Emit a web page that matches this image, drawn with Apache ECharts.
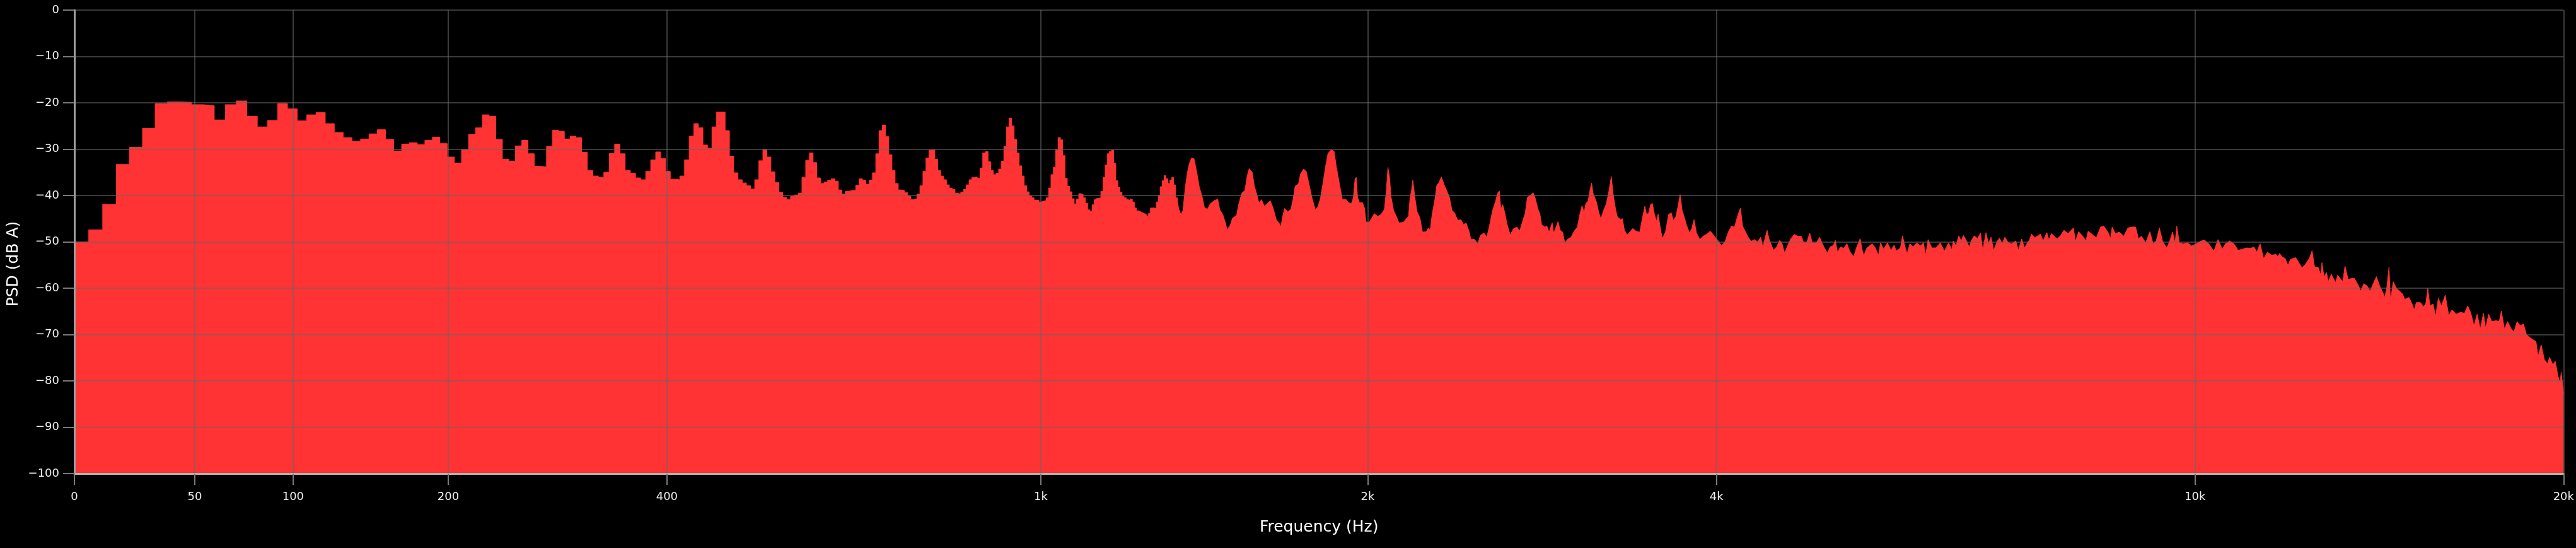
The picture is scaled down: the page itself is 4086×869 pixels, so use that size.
<!DOCTYPE html>
<html>
<head>
<meta charset="utf-8">
<script src="https://cdn.jsdelivr.net/npm/echarts@6/dist/echarts.min.js"></script>
<style>
html,body{margin:0;padding:0;background:#000;}
#chart{width:4086px;height:869px;}
</style>
</head>
<body>
<div id="chart"></div>
<script>
// FFT bin width (Hz) of the low-frequency spectrum
const binWidth = 44100 / 8192;

// PSD (dB A) per FFT bin, bins 0..250 (0 – ~1350 Hz)
const lowBinDb = [
 -50.0,-47.4,-41.9,-33.3,-29.6,-25.5,-20.2,-19.8,-19.9,-20.4,
 -20.6,-23.7,-20.4,-19.6,-22.9,-25.2,-23.8,-20.2,-21.3,-23.9,
 -22.6,-22.1,-24.5,-26.4,-27.5,-28.3,-27.8,-26.7,-25.8,-27.9,
 -30.4,-28.9,-28.6,-29.0,-28.1,-27.4,-28.8,-31.7,-33.0,-30.1,
 -26.8,-25.4,-22.6,-22.9,-27.9,-32.2,-32.6,-29.3,-28.1,-31.0,
 -33.7,-33.8,-29.4,-25.9,-26.2,-27.8,-27.2,-27.5,-30.7,-34.6,
 -35.8,-36.1,-35.0,-30.9,-28.9,-31.0,-34.6,-35.2,-36.2,-36.6,
 -34.8,-32.3,-30.6,-32.0,-34.8,-36.5,-36.6,-35.8,-32.3,-27.2,
 -24.5,-25.4,-29.1,-29.8,-25.2,-22.0,-22.0,-26.0,-31.5,-35.1,
 -36.6,-37.3,-37.9,-38.6,-36.6,-32.5,-30.1,-31.7,-34.9,-37.2,
 -39.3,-40.4,-40.9,-40.2,-39.9,-39.5,-36.1,-32.4,-30.8,-32.9,
 -36.2,-37.4,-37.1,-36.7,-36.4,-36.9,-38.8,-39.7,-39.1,-38.9,
 -38.9,-37.8,-36.4,-36.7,-37.6,-36.7,-35.1,-31.0,-26.0,-24.8,
 -27.3,-31.2,-34.6,-37.4,-38.8,-38.9,-39.4,-40.1,-40.9,-40.7,
 -39.7,-37.9,-34.8,-31.9,-30.2,-30.1,-32.2,-34.6,-35.8,-36.6,
 -37.7,-38.4,-38.7,-39.5,-39.7,-39.3,-38.7,-37.7,-36.6,-36.1,
 -36.0,-36.3,-34.1,-30.8,-30.5,-32.7,-34.6,-35.5,-35.2,-34.3,
 -32.6,-29.4,-25.2,-23.3,-25.0,-27.9,-30.8,-33.6,-35.8,-37.9,
 -39.2,-40.1,-40.5,-41.0,-41.0,-41.4,-41.2,-41.1,-40.5,-38.4,
 -35.5,-33.9,-30.1,-27.5,-28.0,-31.4,-36.3,-38.0,-39.2,-40.7,
 -41.8,-40.8,-39.6,-39.8,-40.5,-41.7,-43.1,-43.4,-42.0,-40.9,
 -40.6,-40.5,-39.1,-36.1,-33.4,-31.0,-30.5,-30.2,-33.0,-36.8,
 -38.2,-39.3,-40.2,-40.5,-40.9,-41.1,-40.8,-41.4,-42.7,-43.3,
 -43.5,-43.7,-43.9,-44.1,-44.5,-43.9,-42.7,-42.7,-42.8,-41.4,
 -40.0,-38.1,-36.8,-35.7,-36.4,-37.4,-36.7,-36.1,-37.7,-40.5,
 -43.0
];

// PSD above ~1.34 kHz: frequency (Hz) and level (dB A)
const highFreq = [
 1344,1350,1356,1362,1368,1374,1380,1387,1394,1402,1410,1418,1425,1434,1443,1455,1466,1472,1482,1490,
 1495,1505,1512,1525,1533,1542,1552,1559,1566,1576,1583,1590,1598,1607,1616,1625,1636,1646,1657,1668,
 1673,1679,1686,1697,1708,1716,1723,1735,1742,1753,1763,1773,1784,1796,1805,1815,1825,1835,1844,1857,
 1867,1876,1887,1899,1912,1922,1934,1942,1949,1954,1959,1967,1978,1987,1993,2006,2017,2027,2041,2055,
 2069,2077,2084,2091,2097,2108,2120,
 2122,2131,2150,2163,2173,2179,2187,2192,2200,2210,2224,2235,2252,2262,2270,2279,2291,2301,2310,2322,
 2335,2350,2360,2372,2385,2400,2415,2428,2440,2456,2463,2482,2498,2511,2529,2543,2556,2572,2588,2599,
 2608,2616,2626,2637,2648,2665,2682,2701,2716,2733,2746,2758,2773,2790,2802,2816,2828,2837,2855,2867,
 2879,2897,2906,2919,2931,2943,2958,2970,2989,3007,3026,3045,3060,3073,3086,3096,3111,3122,3132,3141,
 3161,3176,3189,3207,3224,3240,3256,3267,3283,
 3294,3314,3328,3341,3359,3376,3397,3418,3443,3460,3478,3489,3503,3518,3529,3544,3559,3569,3584,3598,
 3621,3643,3662,3677,3696,3711,3726,3741,3757,3772,3795,3811,3829,3847,3873,3897,3921,3953,3978,4010,
 4040,4068,4093,4118,4143,4169,4191,4208,4229,4254,4280,4307,4333,4359,4377,4395,4413,4431,4468,4495,
 4522,4541,4565,4591,4621,4653,4685,4715,4738,4767,4793,4816,4855,4885,4911,4935,4959,4985,5015,5036,
 5056,5087,5118,5149,5180,5218,5244,5282,5303,5320,5351,5405,5438,5471,5493,5526,5566,5604,5638,5661,
 5707,5730,5758,5781,5811,5846,5889,5929,5965,5989,6018,6061,6110,6160,6209,6259,6297,6315,6348,6381,
 6412,6438,6477,6510,6541,6573,6615,6652,6681,6722,6754,6787,6822,6864,6897,6933,6969,7017,7059,7116,
 7150,7196,7236,7274,7303,7332,7376,7420,7459,7495,7549,7579,7615,7677,
 7706,7752,7799,7861,7940,7972,8019,8084,8132,8165,8230,8295,8362,8412,8479,8520,8547,8598,8667,8736,
 8806,8876,8936,8983,9036,9108,9181,9236,9291,9347,9402,9477,9534,9583,9629,9660,9706,9783,9861,9939,
 10019,10099,10179,10260,10363,10445,10528,10591,10675,10760,10846,10932,11019,11107,11173,11240,11307,11383,11464,11555,
 11647,
 11692,11730,11785,11855,11917,11973,12092,12164,12236,12309,12407,12471,12530,12614,12680,12705,12755,12816,12856,12932,
 13035,13086,13164,13216,13269,13347,13427,13506,13613,13667,13748,13830,13911,13994,14077,14161,14244,14301,14357,14414,
 14454,14528,14614,14701,14788,14847,14964,15052,15112,15172,15292,15383,15443,15504,15566,15658,15732,15813,15907,16020,
 16128,16223,16352,16481,16611,16710,16809,16908,17008,17109,17211,17279,17381,17484,17623,17727,17797,17902,18008,18115,
 18222,18330,18439,18548,18658,18768,18879,18991,19066,19179,19292,19407,19483,19598,19691,19792,19870,19909,19972,20000
];
const highDb = [
 -40.5,-43.0,-44.1,-43.2,-38.6,-35.4,-33.2,-31.9,-32.0,-34.8,-38.2,-40.1,-42.5,-43.0,-41.8,-41.1,-40.8,-43.0,-44.2,-45.9,
 -47.4,-46.4,-44.9,-44.3,-41.6,-39.5,-38.9,-35.9,-34.2,-35.0,-38.0,-39.5,-41.6,-40.9,-42.3,-41.8,-41.1,-42.7,-45.2,-46.1,
 -46.7,-44.5,-42.8,-43.5,-43.0,-40.7,-38.0,-37.5,-35.4,-34.3,-34.8,-37.5,-40.5,-43.0,-42.5,-40.7,-37.3,-33.6,-30.9,-30.1,
 -30.5,-33.9,-37.3,-40.9,-40.8,-41.5,-41.8,-40.5,-36.4,-36.1,-40.4,-41.6,-41.5,-42.7,-45.7,-45.8,-44.8,-43.9,-44.5,-44.1,
 -43.0,-39.1,-33.9,-36.1,-40.2,-43.2,-44.5,
 -44.5,-45.9,-45.8,-45.0,-44.5,-40.7,-38.6,-36.7,-40.0,-43.4,-44.9,-47.9,-47.8,-47.0,-47.5,-44.1,-41.1,-37.7,-37.3,-36.0,
 -37.7,-39.3,-40.4,-43.2,-43.8,-45.4,-45.2,-46.3,-45.9,-47.9,-49.4,-49.5,-50.4,-48.6,-48.1,-49.0,-46.8,-43.4,-41.3,-39.5,
 -39.0,-42.9,-42.0,-43.8,-46.1,-48.5,-47.2,-46.8,-47.7,-45.4,-43.8,-40.4,-40.0,-39.4,-40.7,-42.9,-44.1,-46.3,-46.8,-46.6,
 -47.9,-45.9,-48.1,-46.8,-45.6,-47.5,-47.9,-50.2,-49.4,-49.0,-47.7,-46.8,-44.1,-42.2,-43.6,-41.8,-41.1,-38.8,-37.3,-39.5,
 -41.3,-43.6,-45.0,-43.2,-41.8,-39.1,-35.9,-39.5,-42.9,
 -44.5,-45.2,-45.0,-47.5,-48.5,-47.9,-47.1,-47.7,-47.9,-45.0,-42.3,-44.1,-43.8,-41.9,-41.7,-44.1,-45.6,-44.0,-46.8,-49.3,
 -47.9,-44.1,-43.7,-45.4,-44.5,-42.3,-39.8,-43.2,-44.7,-46.3,-48.1,-47.2,-45.2,-48.1,-49.5,-48.8,-48.4,-47.7,-48.6,-49.7,
 -50.8,-49.9,-47.9,-46.6,-46.8,-44.3,-42.7,-46.6,-47.7,-49.0,-49.9,-49.5,-50.0,-49.0,-51.1,-49.3,-47.5,-49.5,-51.8,-51.1,
 -49.7,-50.2,-52.4,-50.9,-49.3,-48.4,-48.8,-48.8,-50.2,-50.0,-48.1,-50.2,-50.2,-49.0,-50.4,-51.5,-52.4,-51.1,-50.8,-49.7,
 -52.2,-51.1,-51.4,-50.4,-52.2,-53.2,-51.3,-49.3,-51.8,-52.9,-51.3,-50.4,-51.3,-52.9,-50.2,-51.6,-50.2,-51.8,-50.7,-52.0,
 -51.3,-48.7,-51.1,-52.5,-50.4,-51.1,-50.2,-50.9,-50.2,-52.9,-49.5,-51.3,-51.3,-50.2,-52.0,-50.2,-51.7,-49.8,-50.9,-48.7,
 -49.8,-48.6,-49.8,-51.1,-49.6,-48.7,-49.3,-48.1,-51.8,-48.0,-50.4,-49.0,-51.8,-50.0,-49.2,-50.4,-49.0,-50.2,-50.4,-49.8,
 -51.8,-49.4,-51.3,-50.2,-49.6,-48.3,-49.1,-48.7,-48.3,-49.8,-48.0,-49.6,-48.2,-49.1,
 -49.3,-48.6,-47.5,-48.2,-47.0,-49.9,-47.8,-48.8,-49.8,-47.7,-48.4,-49.1,-46.8,-46.6,-47.9,-49.3,-46.8,-48.2,-47.9,-48.8,
 -47.0,-46.8,-46.8,-49.3,-48.8,-50.2,-47.8,-50.4,-49.8,-47.0,-49.8,-51.3,-49.8,-47.9,-50.2,-46.6,-50.2,-50.4,-50.2,-50.9,
 -50.4,-49.9,-49.6,-50.4,-52.0,-49.5,-51.6,-50.4,-49.8,-50.4,-51.8,-51.6,-51.3,-51.4,-51.1,-52.2,-50.4,-53.6,-52.2,-52.9,
 -52.7,
 -53.2,-52.5,-53.2,-53.6,-55.1,-53.8,-53.4,-54.5,-55.6,-54.9,-53.6,-51.9,-55.4,-55.5,-57.2,-54.5,-57.6,-56.6,-58.6,-57.0,
 -58.8,-57.2,-58.1,-58.5,-55.2,-58.1,-57.9,-57.9,-59.5,-60.6,-59.0,-59.5,-60.6,-59.0,-57.5,-59.5,-60.9,-62.0,-59.7,-55.4,
 -62.9,-58.6,-60.0,-60.6,-61.3,-62.4,-62.0,-63.4,-64.7,-63.1,-63.1,-64.0,-63.4,-60.0,-63.8,-63.4,-66.1,-62.2,-63.8,-61.5,
 -65.9,-64.7,-65.6,-65.2,-65.4,-63.8,-65.4,-68.1,-65.6,-68.8,-65.4,-68.6,-65.6,-67.2,-67.0,-67.2,-64.9,-68.8,-67.2,-68.6,
 -69.5,-67.2,-68.1,-67.7,-70.0,-70.6,-71.1,-71.5,-74.7,-72.2,-75.4,-76.3,-74.9,-76.5,-75.8,-79.0,-80.4,-78.1,-81.3,-82.9
];

// Axis ticks
const xTickFreqs = [0, 50, 100, 200, 400, 1000, 2000, 4000, 10000, 20000];
const xTickLabels = ['0', '50', '100', '200', '400', '1k', '2k', '4k', '10k', '20k'];
const yMin = -100, yMax = 0, yStep = 10;

// Frequency warping used by the plot's x axis: log10(1 + f/200)
const FREQ_KNEE = 200;
function warp(f) { return Math.log10(1 + f / FREQ_KNEE); }

const lowData = lowBinDb.map((v, k) => [warp(k * binWidth), v]);
lowData.push([warp(lowBinDb.length * binWidth), lowBinDb[lowBinDb.length - 1]]);
const highData = highFreq.map((f, i) => [warp(f), highDb[i]]);

const xTickPos = xTickFreqs.map(warp);
const RED = '#ff3333';
const FONT = 'DejaVu Sans';
const gridLine = { show: true, lineStyle: { color: 'rgba(102,102,102,0.57)', width: 2 } };

const chart = echarts.init(document.getElementById('chart'), null, { renderer: 'canvas' });
chart.setOption({
  backgroundColor: '#000',
  animation: false,
  grid: { left: 118, right: 12, top: 16, bottom: 118, containLabel: false },
  xAxis: {
    type: 'value',
    min: 0,
    max: warp(20000),
    z: 5,
    axisLine: { show: true, onZero: false, lineStyle: { color: '#b4b4b4', width: 3 } },
    axisTick: { show: true, length: 18, customValues: xTickPos, lineStyle: { color: '#7a7a7a', width: 2 } },
    axisLabel: {
      customValues: xTickPos,
      margin: 28,
      color: '#eeeeee',
      fontSize: 18,
      fontFamily: FONT,
      formatter: function (v) {
        let best = 0;
        for (let i = 1; i < xTickPos.length; i++) {
          if (Math.abs(xTickPos[i] - v) < Math.abs(xTickPos[best] - v)) best = i;
        }
        return xTickLabels[best];
      }
    },
    splitLine: gridLine,
    name: 'Frequency (Hz)',
    nameLocation: 'middle',
    nameGap: 73,
    nameTextStyle: { color: '#ffffff', fontSize: 25, fontFamily: FONT }
  },
  yAxis: {
    type: 'value',
    min: yMin,
    max: yMax,
    interval: yStep,
    z: 5,
    axisLine: { show: true, lineStyle: { color: '#a0a0a0', width: 3 } },
    axisTick: { show: true, length: 18, lineStyle: { color: '#7a7a7a', width: 2 } },
    axisLabel: {
      margin: 24,
      color: '#eeeeee',
      fontSize: 18,
      fontFamily: FONT,
      formatter: function (v) { return v < 0 ? '\u2212' + Math.abs(v) : String(v); }
    },
    splitLine: gridLine,
    name: 'PSD (dB A)',
    nameLocation: 'middle',
    nameGap: 73,
    nameTextStyle: { color: '#ffffff', fontSize: 25, fontFamily: FONT, padding: [0, 70, 0, 0] }
  },
  series: [
    {
      type: 'line',
      data: lowData,
      step: 'end',
      showSymbol: false,
      silent: true,
      lineStyle: { color: RED, width: 1 },
      areaStyle: { color: RED, opacity: 1, origin: 'start' },
      z: 2
    },
    {
      type: 'line',
      data: highData,
      showSymbol: false,
      silent: true,
      lineStyle: { color: RED, width: 1 },
      areaStyle: { color: RED, opacity: 1, origin: 'start' },
      z: 2
    }
  ]
});
</script>
</body>
</html>
